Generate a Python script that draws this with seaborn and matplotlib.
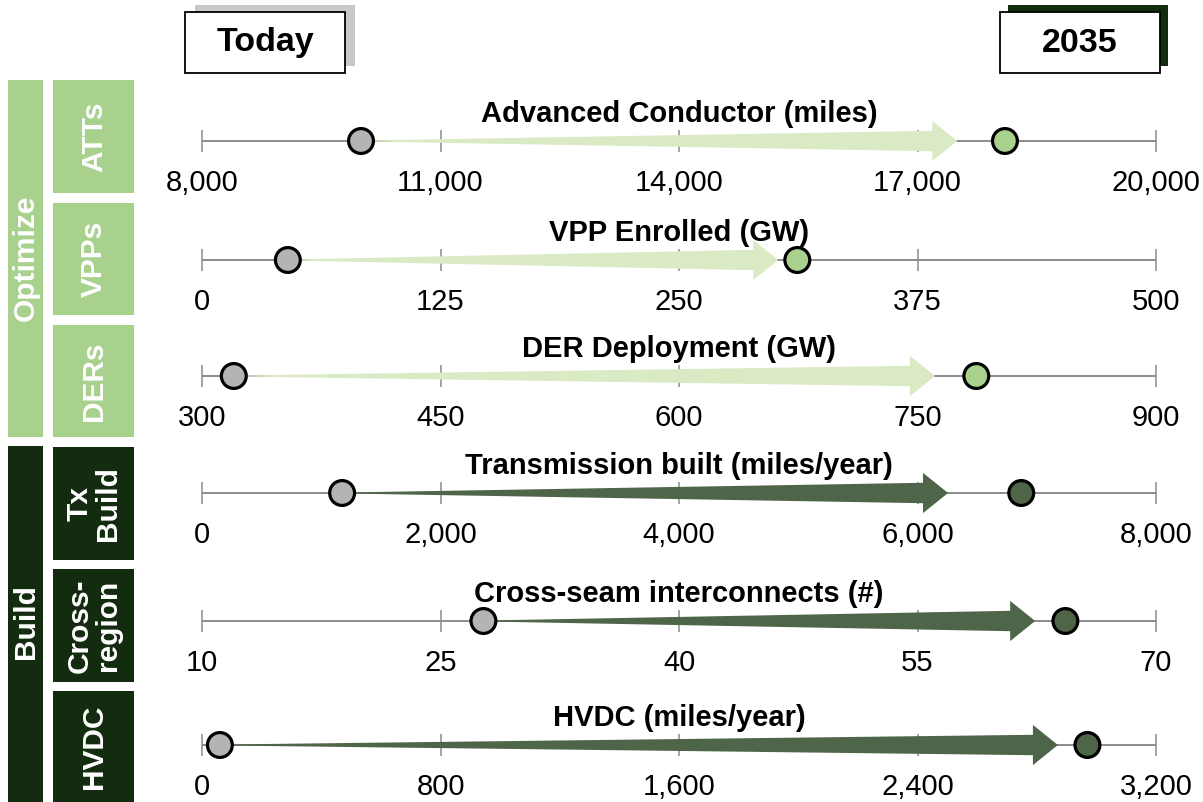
import numpy as np
import matplotlib.pyplot as plt
import seaborn as sns
from matplotlib.patches import Rectangle, Polygon

sns.set_theme(style="white")
plt.rcParams["font.family"] = ["Liberation Sans", "DejaVu Sans"]
plt.rcParams["text.color"] = "black"

# data
groups = ["Optimize", "Build"]
row_labels = ["ATTs", "VPPs", "DERs", "Tx\nBuild", "Cross-\nregion", "HVDC"]
row_group = ["Optimize", "Optimize", "Optimize", "Build", "Build", "Build"]
titles = ["Advanced Conductor (miles)", "VPP Enrolled (GW)", "DER Deployment (GW)",
          "Transmission built (miles/year)", "Cross-seam interconnects (#)", "HVDC (miles/year)"]
ticks = [
    [8000, 11000, 14000, 17000, 20000],
    [0, 125, 250, 375, 500],
    [300, 450, 600, 750, 900],
    [0, 2000, 4000, 6000, 8000],
    [10, 25, 40, 55, 70],
    [0, 800, 1600, 2400, 3200],
]
today = [10000, 45, 320, 1175, 27.7, 60]
target_2035 = [18100, 312, 787, 6870, 64.3, 2970]
arrow_end = [17500, 302, 761, 6256, 62.4, 2871]

light_green = "#a9d18e"
dark_green = "#132b0e"
arrow_col = {"Optimize": "#d9eac5", "Build": "#4f6549"}
dot_col = {"Optimize": "#a9d18e", "Build": "#4e6548"}
grey_dot = "#b4b4b4"

W, H = 1203, 802
fig = plt.figure(figsize=(W / 100, H / 100), dpi=100)


def fx(x):
    return x / W


def fy(y):
    return 1 - y / H


def box(x0, y0, x1, y1, **kw):
    fig.patches.append(Rectangle((fx(x0), fy(y1)), fx(x1 - x0), (y1 - y0) / H,
                                 transform=fig.transFigure, **kw))


# header boxes
box(195, 5, 355, 66, facecolor="#c8c8c8", edgecolor="none")
box(185, 12, 345, 73, facecolor="white", edgecolor="black", linewidth=1.3)
fig.text(fx(265), fy(43), "Today", ha="center", va="center", fontsize=24.5, fontweight="bold")
box(1008, 5, 1168, 66, facecolor=dark_green, edgecolor="none")
box(1000, 12, 1160, 73, facecolor="white", edgecolor="black", linewidth=1.3)
fig.text(fx(1080), fy(43), "2035", ha="center", va="center", fontsize=24.5, fontweight="bold")

# left category panels
box(8, 80, 43, 437, facecolor=light_green, edgecolor="none")
fig.text(fx(26), fy(258), "Optimize", rotation=90, ha="center", va="center",
         color="white", fontsize=21.5, fontweight="bold")
box(8, 446, 43, 802, facecolor=dark_green, edgecolor="none")
fig.text(fx(26), fy(622), "Build", rotation=90, ha="center", va="center",
         color="white", fontsize=21.5, fontweight="bold")

inner_top = [80, 203, 325, 447, 569, 691]
inner_bot = [193, 315, 437, 560, 682, 802]
line_y = [141, 260, 376, 493, 621, 745]

x_left, x_right = 202, 1156
for i in range(6):
    g = row_group[i]
    fill = light_green if g == "Optimize" else dark_green
    box(53, inner_top[i], 134, inner_bot[i], facecolor=fill, edgecolor="none")
    fig.text(fx(94), fy((inner_top[i] + inner_bot[i]) / 2), row_labels[i], rotation=90,
             ha="center", va="center", color="white", fontsize=21.5, fontweight="bold",
             linespacing=1.0)

    ax = fig.add_axes([fx(x_left), fy(line_y[i] + 30), fx(x_right - x_left), 60 / H])
    lo, hi = ticks[i][0], ticks[i][-1]
    ax.set_xlim(lo, hi)
    ax.set_ylim(-1, 1)
    ax.patch.set_alpha(0)
    for s in ["top", "left", "right"]:
        ax.spines[s].set_visible(False)
    ax.spines["bottom"].set_position(("data", 0))
    ax.spines["bottom"].set_visible(False)
    ax.plot([lo, hi], [0, 0], color="#8c8c8c", linewidth=1.4, zorder=0.5)
    ax.set_yticks([])
    ax.set_xticks(ticks[i])
    ax.set_xticklabels([f"{t:,}" for t in ticks[i]])
    ax.tick_params(axis="x", direction="inout", length=16, width=1.1, color="#8c8c8c",
                   labelsize=21, pad=12, labelcolor="black", bottom=True)

    # tapered arrow from today to 2035 path
    head = (hi - lo) * 25 / (x_right - x_left)
    x0, x2 = today[i], arrow_end[i]
    x1 = x2 - head
    verts = [(x0, 0.015), (x1, 0.34), (x1, 0.67), (x2, 0), (x1, -0.67), (x1, -0.34), (x0, -0.015)]
    ax.add_patch(Polygon(verts, closed=True, facecolor=arrow_col[g], edgecolor="none", zorder=1))

    sns.scatterplot(x=[today[i], target_2035[i]], y=[0, 0], hue=["today", "2035"],
                    palette={"today": grey_dot, "2035": dot_col[g]}, s=320,
                    edgecolor="black", linewidth=2.3, legend=False, ax=ax, zorder=4,
                    clip_on=False)
    ax.set_xlabel("")
    ax.set_ylabel("")
    ax.text(0.5, 0.95, titles[i], transform=ax.transAxes, ha="center", va="center",
            fontsize=21, fontweight="bold")

fig.savefig("out.png", dpi=100)
